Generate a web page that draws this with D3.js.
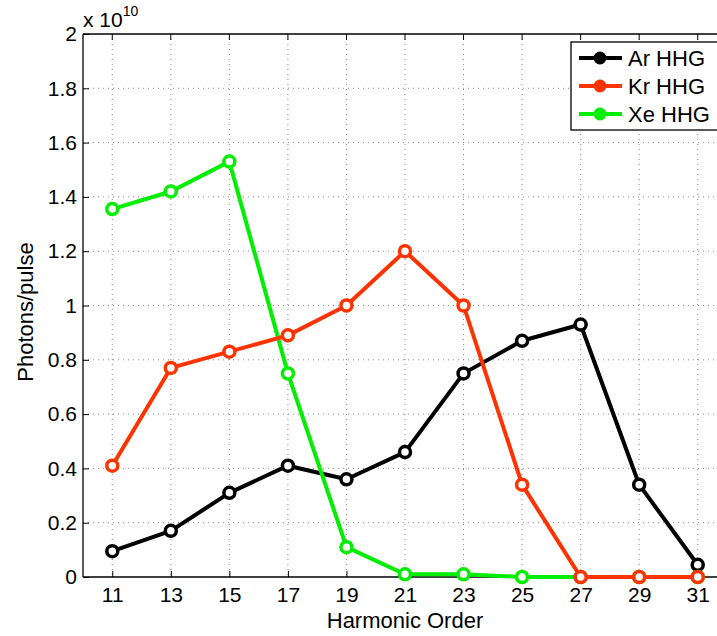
<!doctype html>
<html>
<head>
<meta charset="utf-8">
<script src="https://d3js.org/d3.v7.min.js"></script>
<style>
  body { margin: 0; background: #fff; }
  svg { display: block; font-family: "Liberation Sans", Arial, sans-serif; }
  .grid line { stroke: #888; stroke-dasharray: 1 4; stroke-width: 1; }
</style>
</head>
<body>
<svg width="717" height="636"></svg>
<script>
// harmonic orders (x)
var orders = [11, 13, 15, 17, 19, 21, 23, 25, 27, 29, 31];
// photons/pulse in units of 1e10
var arVals = [0.095, 0.17, 0.31, 0.41, 0.36, 0.46, 0.75, 0.87, 0.93, 0.34, 0.045];
var krVals = [0.41, 0.77, 0.83, 0.89, 1.0, 1.2, 1.0, 0.34, 0, 0, 0];
var xeVals = [1.355, 1.42, 1.53, 0.75, 0.11, 0.01, 0.01, 0, 0, 0, 0];
var yTicks = [0, 0.2, 0.4, 0.6, 0.8, 1, 1.2, 1.4, 1.6, 1.8, 2];
var legendNames = ["Ar HHG", "Kr HHG", "Xe HHG"];

var colors = { ar: "#000000", kr: "#ff3300", xe: "#00ee00" };

var svg = d3.select("svg");
var plotL = 83, plotT = 34, plotW = 644, plotB = 577;

var x = d3.scaleLinear().domain([10, 32]).range([plotL, plotL + plotW]);
var y = d3.scaleLinear().domain([0, 2]).range([plotB, plotT]);

// grid
var grid = svg.append("g").attr("class", "grid");
grid.selectAll(".gx").data(orders).enter().append("line")
  .attr("x1", d => x(d)).attr("x2", d => x(d))
  .attr("y1", plotT).attr("y2", plotB);
grid.selectAll(".gy").data(yTicks.slice(1, -1)).enter().append("line")
  .attr("x1", plotL).attr("x2", plotL + plotW)
  .attr("y1", d => y(d)).attr("y2", d => y(d));

// axes
var xAxis = d3.axisBottom(x).tickValues(orders).tickSize(-6).tickPadding(10);
var yAxis = d3.axisLeft(y).tickValues(yTicks).tickSize(-6).tickPadding(6)
  .tickFormat(d => String(+d.toFixed(1)));

svg.append("g").attr("transform", "translate(0," + plotB + ")").call(xAxis)
  .call(g => g.select(".domain").remove());
svg.append("g").attr("transform", "translate(" + plotL + ",0)").call(yAxis)
  .call(g => g.select(".domain").remove());

svg.selectAll(".tick text").attr("font-size", 21).attr("fill", "#000")
  .attr("font-family", "Liberation Sans, Arial, sans-serif");
svg.selectAll(".tick line").attr("stroke", "#000");

// top ticks
svg.append("g").selectAll("line").data(orders).enter().append("line")
  .attr("x1", d => x(d)).attr("x2", d => x(d))
  .attr("y1", plotT).attr("y2", plotT + 6).attr("stroke", "#000");

// frame
svg.append("line").attr("x1", plotL).attr("x2", plotL + plotW).attr("y1", plotB).attr("y2", plotB)
  .attr("stroke", "#000").attr("stroke-width", 1.3);
svg.append("line").attr("x1", plotL).attr("x2", plotL + plotW).attr("y1", plotT).attr("y2", plotT)
  .attr("stroke", "#000").attr("stroke-width", 1.3);
svg.append("line").attr("x1", plotL).attr("x2", plotL).attr("y1", plotT).attr("y2", plotB)
  .attr("stroke", "#000").attr("stroke-width", 1.3);

// series (draw order: Ar, Xe, Kr)
var series = [
  { key: "ar", vals: arVals },
  { key: "xe", vals: xeVals },
  { key: "kr", vals: krVals }
];
var line = d3.line().x((d, i) => x(orders[i])).y(d => y(d));

series.forEach(function (s) {
  var g = svg.append("g");
  g.append("path").datum(s.vals)
    .attr("d", line)
    .attr("fill", "none")
    .attr("stroke", colors[s.key])
    .attr("stroke-width", 4)
    .attr("stroke-linejoin", "round");
  g.selectAll("circle").data(s.vals).enter().append("circle")
    .attr("cx", (d, i) => x(orders[i]))
    .attr("cy", d => y(d))
    .attr("r", 5.5)
    .attr("fill", "#fff")
    .attr("stroke", colors[s.key])
    .attr("stroke-width", 3.5);
});

// exponent label
var ex = svg.append("text").attr("x", 83).attr("y", 27).attr("font-size", 21);
ex.append("tspan").text("x 10");
ex.append("tspan").attr("dy", -11).attr("font-size", 14).text("10");

// axis labels
svg.append("text").attr("x", x(21)).attr("y", 628).attr("text-anchor", "middle")
  .attr("font-size", 22).text("Harmonic Order");
svg.append("text").attr("transform", "translate(33,312) rotate(-90)")
  .attr("text-anchor", "middle").attr("font-size", 22).text("Photons/pulse");

// legend
var lg = svg.append("g");
lg.append("rect").attr("x", 571).attr("y", 42).attr("width", 160).attr("height", 88)
  .attr("fill", "#fff").attr("stroke", "#000").attr("stroke-width", 1.3);
var legendKeys = ["ar", "kr", "xe"];
legendNames.forEach(function (name, i) {
  var ly = 58 + i * 28;
  var c = colors[legendKeys[i]];
  lg.append("line").attr("x1", 579).attr("x2", 622).attr("y1", ly).attr("y2", ly)
    .attr("stroke", c).attr("stroke-width", 4);
  lg.append("circle").attr("cx", 600).attr("cy", ly).attr("r", 5)
    .attr("fill", c).attr("stroke", c).attr("stroke-width", 3);
  lg.append("text").attr("x", 628).attr("y", ly + 8).attr("font-size", 22).text(name);
});
</script>
</body>
</html>
